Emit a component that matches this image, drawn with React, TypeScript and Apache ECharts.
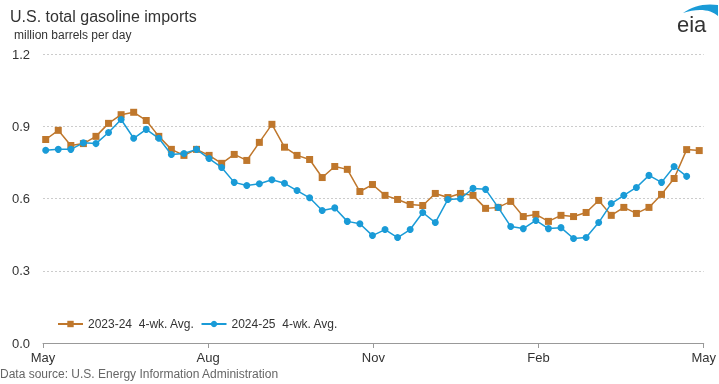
import React, { useEffect, useRef } from "react";
import * as echarts from "echarts";

const titleText = "U.S. total gasoline imports";
const unitText = "million barrels per day";
const sourceText = "Data source: U.S. Energy Information Administration";

const seriesNames = ["2023-24  4-wk. Avg.", "2024-25  4-wk. Avg."];

const xTickLabels = ["May", "Aug", "Nov", "Feb", "May"];
const yTickValues = [0, 0.3, 0.6, 0.9, 1.2];

// weekly values, first week ends ~May 2/3
const firstWeekDay = 1.5;
const daysPerWeek = 7;

const imports2023_24 = [
  0.845, 0.883, 0.82, 0.828, 0.858, 0.912, 0.948, 0.958, 0.924, 0.858,
  0.804, 0.779, 0.804, 0.779, 0.746, 0.783, 0.758, 0.833, 0.908, 0.813,
  0.779, 0.762, 0.687, 0.733, 0.721, 0.629, 0.658, 0.613, 0.596, 0.575,
  0.571, 0.621, 0.604, 0.621, 0.613, 0.559, 0.563, 0.588, 0.525, 0.534,
  0.505, 0.53, 0.525, 0.542, 0.592, 0.53, 0.563, 0.538, 0.563, 0.617,
  0.683, 0.803, 0.799,
];

const imports2024_25 = [
  0.8, 0.804, 0.804, 0.831, 0.828, 0.874, 0.928, 0.85, 0.887, 0.85,
  0.783, 0.787, 0.804, 0.766, 0.729, 0.667, 0.654, 0.661, 0.678, 0.663,
  0.633, 0.603, 0.55, 0.561, 0.505, 0.495, 0.446, 0.471, 0.438, 0.471,
  0.542, 0.5, 0.596, 0.599, 0.642, 0.638, 0.563, 0.484, 0.475, 0.509,
  0.475, 0.479, 0.434, 0.438, 0.5, 0.579, 0.613, 0.646, 0.696, 0.667,
  0.733, 0.692,
];

const colorA = "#bf772c";
const colorB = "#1a9bd7";

const logoPath = "M0,10 C9,3 22,0 35,2 L35,13 C28,6 14,5 0,10 Z";

let logoRegistered = false;

export default function App() {
  const ref = useRef<HTMLDivElement>(null);

  useEffect(() => {
    if (!ref.current) return;
    if (!logoRegistered) {
      echarts.graphic.registerShape(
        "eiaSwoosh",
        (echarts.graphic as any).extendPath(logoPath, {})
      );
      logoRegistered = true;
    }
    const chart = echarts.init(ref.current, null, { renderer: "svg" });
    const toPoints = (arr: number[]) =>
      arr.map((v, i) => [firstWeekDay + daysPerWeek * i, v]);
    const font = "'Liberation Sans', Arial, sans-serif";
    chart.setOption({
      animation: false,
      textStyle: { fontFamily: font },
      grid: { left: 43, right: 14, top: 54, bottom: 41, containLabel: false },
      legend: {
        left: 52,
        top: 313,
        itemWidth: 25,
        itemHeight: 8,
        itemGap: 6,
        textStyle: { fontSize: 12, color: "#333", fontFamily: font },
        data: seriesNames,
      },
      xAxis: {
        type: "value",
        min: 0,
        max: 368,
        interval: 92,
        axisLine: { show: true, lineStyle: { color: "#999", width: 1 } },
        axisTick: { show: true, length: 5, lineStyle: { color: "#999" } },
        splitLine: { show: false },
        axisLabel: {
          fontSize: 13,
          color: "#333",
          margin: 8,
          showMaxLabel: true,
          showMinLabel: true,
          formatter: (v: number) => xTickLabels[Math.round(v / 92)] ?? "",
        },
      },
      yAxis: {
        type: "value",
        min: yTickValues[0],
        max: yTickValues[yTickValues.length - 1],
        interval: 0.3,
        axisLine: { show: false },
        axisTick: { show: false },
        splitLine: { lineStyle: { color: "#cccccc", type: [2, 2], width: 1 } },
        axisLabel: {
          fontSize: 13,
          color: "#333",
          margin: 13,
          formatter: (v: number) => v.toFixed(1),
        },
      },
      series: [
        {
          name: seriesNames[0],
          type: "line",
          data: toPoints(imports2023_24),
          symbol: "rect",
          symbolSize: 7,
          lineStyle: { color: colorA, width: 1.5 },
          itemStyle: { color: colorA },
          z: 2,
        },
        {
          name: seriesNames[1],
          type: "line",
          data: toPoints(imports2024_25),
          symbol: "circle",
          symbolSize: 7,
          lineStyle: { color: colorB, width: 1.5 },
          itemStyle: { color: colorB },
          z: 3,
        },
      ],
      graphic: [
        {
          type: "text",
          left: 10,
          top: 8,
          style: { text: titleText, fontSize: 16, fill: "#333", fontFamily: font },
        },
        {
          type: "text",
          left: 14,
          top: 29,
          style: { text: unitText, fontSize: 12, fill: "#333", fontFamily: font },
        },
        {
          type: "text",
          left: 0,
          top: 368,
          style: { text: sourceText, fontSize: 12, fill: "#666", fontFamily: font },
        },
        {
          type: "text",
          left: 677,
          top: 13,
          style: { text: "eia", fontSize: 22, fill: "#333", fontFamily: font },
        },
        {
          type: "eiaSwoosh",
          x: 683,
          y: 3,
          style: { fill: "#1a9bd7" },
        } as any,
      ],
    });
    return () => chart.dispose();
  }, []);

  return (
    <div
      ref={ref}
      style={{ position: "fixed", left: 0, top: 0, width: 719, height: 384 }}
    />
  );
}
